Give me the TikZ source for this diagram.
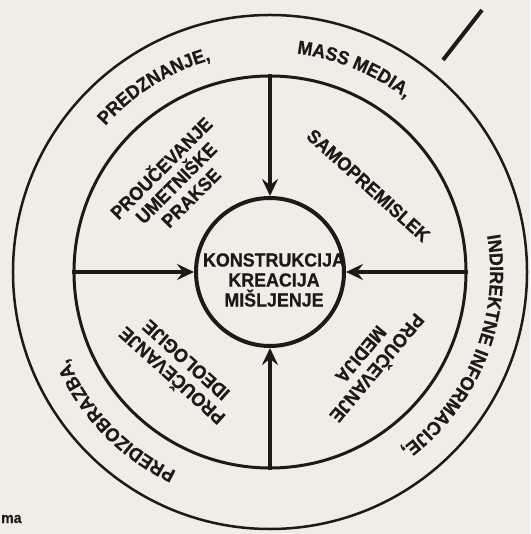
\documentclass[tikz,border=0pt]{standalone}
\usepackage{fontspec}
\setmainfont[FakeStretch=0.94, BoldFeatures={FakeBold=0.6}]{Liberation Sans}
\usetikzlibrary{arrows.meta,decorations.text}
\definecolor{ink}{HTML}{1C1A18}
\definecolor{paper}{HTML}{EFEDE5}
\newcommand{\capfont}{\bfseries\fontsize{19}{20}\selectfont}
\tikzset{
  ring/.style={circle, draw=ink, inner sep=0pt, minimum size=#1},
  feed/.style={draw=ink, line width=4pt, -{Stealth[length=17pt,width=16pt,inset=6pt]}},
  sector/.style={font=\bfseries\fontsize{19}{21}\selectfont, text=ink, align=center, inner sep=0pt},
}
% text on the outer band, centred on an angle
\newcommand{\rimtext}[2]{%
  \path[decorate, decoration={text along path, text align=center, text color=ink,
    text={|\capfont|#2}}]
    ({#1+45}:220) arc[start angle={#1+45}, end angle={#1-45}, radius=220];}

\begin{document}
\begin{tikzpicture}[x=1pt, y=1pt]
  \fill[paper] (-270,-262) rectangle (260,272);
  \useasboundingbox (-270,-262) rectangle (260,272);
  \node[ring=514pt, line width=2.5pt] (rim) at (0,0) {};
  \node[ring=392pt, line width=3pt] (mid) at (0,0) {};
  \node[ring=148pt, line width=4pt] (core) at (0,0) {};
  \node[sector, font=\capfont] (think) at (4,-8) {KONSTRUKCIJA\\KREACIJA\\MIŠLJENJE};
  \draw[feed] (mid.north) -- (core.north);
  \draw[feed, line width=4.5pt] (mid.south) -- (core.south);
  \draw[feed] (mid.west) -- (core.west);
  \draw[feed] (mid.east) -- (core.east);
  \node[sector, rotate=45] (art) at (136.5:131) {PROUČEVANJE\\UMETNIŠKE\\PRAKSE};
  \node[sector, rotate=-42] (self) at (41.3:131) {SAMOPREMISLEK};
  \node[sector, rotate=-130] (media) at (-42:135) {PROUČEVANJE\\MEDIJA};
  \node[sector, rotate=138] (ideo) at (226.5:134) {PROUČEVANJE\\IDEOLOGIJE};
  \rimtext{122}{PREDZNANJE,}
  \rimtext{67.5}{MASS MEDIA,}
  \rimtext{-22}{INDIREKTNE INFORMACIJE,}
  \rimtext{224}{PREDIZOBRAZBA,}
  \draw[ink, line width=4pt] (173,212) -- (212,262);
  \node[anchor=base west, text=ink, font=\bfseries\fontsize{15}{15}\selectfont, inner sep=0pt] (tag) at (-269,-251) {ma};
\end{tikzpicture}
\end{document}
